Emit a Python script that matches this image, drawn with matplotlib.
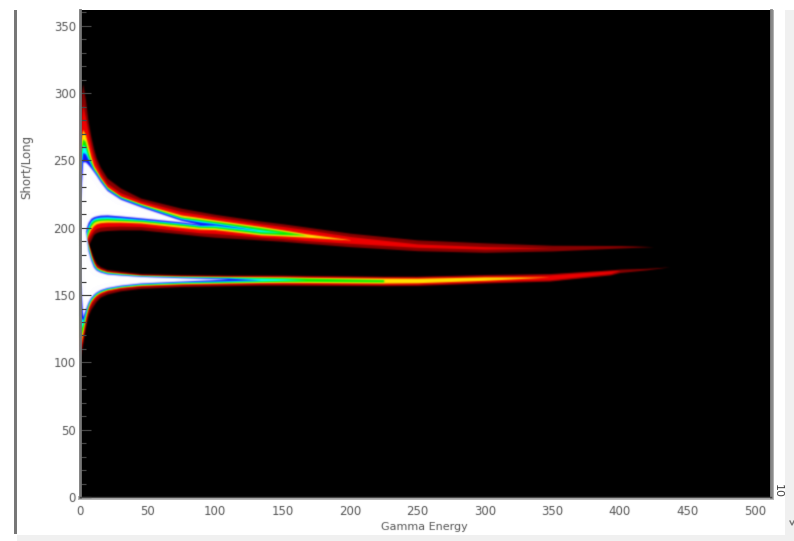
import matplotlib
matplotlib.use("Agg")
import matplotlib.pyplot as plt
import numpy as np
from matplotlib.patches import Rectangle

X_TICKS = [0, 50, 100, 150, 200, 250, 300, 350, 400, 450, 500]
Y_TICKS = [0, 50, 100, 150, 200, 250, 300, 350]
Y_MINOR = list(range(0, 361, 10))

LEVELS = ["dark", "red", "yellow", "green", "cyan", "blue", "white"]
COLORS = ["#8a0000", "#f00000", "#ffe600", "#00f000", "#00ffff", "#1010ff", "#ffffff"]

U_X = [0, 2, 4, 6, 8, 10, 12, 15, 20, 30, 45, 75, 89, 100, 134, 150, 168, 200, 250, 300, 350, 400, 425]
U_TOP = {
    "dark": [290, 307, 295, 279, 268, 259, 252, 245, 237, 229.5, 222, 214.5, 212, 210, 205, 203, 200.5, 196, 191, 188.8, 187, 186.8, 186],
    "red": [270, 292, 282, 271, 261, 253, 247.5, 241, 233, 226, 220, 212, 209.8, 208, 203, 201, 198.5, 193.5, 188, 186, 185],
    "yellow": [262, 273, 269, 261, 253, 246.5, 243, 237.5, 230.5, 223.5, 218, 209.5, 207.5, 205.8, 201, 198.5, 195.5, 191.2],
    "green": [255, 266, 264, 256, 249.5, 244.5, 241.5, 236.5, 229.8, 223, 217.4, 208, 206.3, 204.8, 200, 197.5, 194.5],
    "cyan": [248, 262, 260, 253, 248, 243.5, 240.8, 236, 229.2, 222.5, 217, 207.2, 205.3, 203.8, 198.5, 196.5],
    "blue": [240, 256, 255, 251, 246.8, 243, 240.3, 235.5, 228.8, 222.2, 216.6, 206.6, 204.3, 203, 197.8],
    "white": [215, 249, 249, 247, 244.5, 241.8, 239, 234.3, 227.8, 221.2, 215.6, 205.5, 202.5],
}
U_BOT = {
    "dark": [187, 187, 187, 187, 191, 195, 196.5, 197.5, 198, 198.5, 198.5, 195.5, 194, 193, 191, 190, 188.5, 186, 183, 181.8, 182.8, 185, 186],
    "red": [189, 189, 189, 191.5, 195, 198, 199.5, 200.5, 201, 201.3, 201, 197.8, 196.3, 195.8, 193, 192, 190.5, 188.5, 185.5, 184.2, 185],
    "yellow": [190, 190, 190, 195, 199, 201.5, 203, 203.8, 204.2, 204.2, 203.6, 200.3, 199, 198.7, 194.7, 194, 193, 191],
    "green": [191, 191, 191, 197, 201.5, 204, 205, 205.6, 205.8, 205.4, 204.8, 201.8, 200.3, 200, 195.8, 195, 194.5],
    "cyan": [192, 192, 192, 199, 203.5, 205.5, 206.2, 206.7, 206.9, 206.4, 205.6, 202.8, 201.2, 201, 197, 196.5],
    "blue": [195, 195, 195, 201.5, 205.3, 206.8, 207.5, 208, 208.2, 207.6, 206.3, 203.5, 201.9, 202, 197.8],
    "white": [198, 198, 198, 204, 207, 208.2, 208.8, 209.4, 209.6, 208.8, 207.4, 204.4, 202.5],
}

# lower branch
L_X = [0, 2, 4, 6, 8, 10, 12, 15, 20, 30, 45, 75, 110, 134, 150, 168, 225, 250, 300, 348, 393, 400, 420, 437]
L_TOP = {
    "dark": [188, 188, 188, 188, 183, 177.5, 173.5, 171, 169, 167.7, 166, 165.2, 164.8, 164.8, 164.8, 164.6, 164, 164, 165.3, 166, 168.7, 169.3, 169.9, 171],
    "red": [190, 190, 190, 188.5, 181, 175.5, 171.8, 169.7, 167.8, 166.6, 165, 164.3, 164, 164.1, 164, 163.8, 163.2, 163.2, 164.2, 165, 168, 168.3],
    "yellow": [191, 191, 191, 187, 179.5, 174, 170.6, 168.9, 167.2, 166.1, 164.6, 163.9, 163.6, 163.5, 163.4, 163.1, 162.6, 162.5, 163.5, 163.4],
    "green": [192, 192, 192, 186, 178.7, 173.3, 170.1, 168.5, 166.8, 165.8, 164.4, 163.7, 163.3, 163, 162.9, 162.6, 161.5],
    "cyan": [193, 193, 193, 185, 178, 172.7, 169.6, 168, 166.5, 165.5, 164.2, 163.5, 163, 162.5, 162.2, 161.5],
    "blue": [196, 196, 196, 184, 177, 172, 169.1, 167.6, 166.1, 165.2, 164.1, 163.2, 162.6, 161.3],
    "white": [199, 199, 199, 183, 176, 171, 168.6, 167.1, 165.7, 164.9, 163.9, 162.9, 162],
}
L_BOT = {
    "dark": [103, 114, 126, 135, 139.5, 142.5, 145.5, 148.5, 150.8, 153.2, 155, 156.4, 157, 157.4, 157.4, 157.3, 157, 157.2, 159, 160.4, 165, 166.8, 168.8, 171],
    "red": [108, 118, 130, 138.5, 143, 146, 148.3, 150.7, 152.8, 155, 156.6, 157.7, 158.3, 158.5, 158.5, 158.4, 158, 158.2, 160, 161.4, 166, 168.3],
    "yellow": [112, 122, 133, 141, 145.4, 148, 150, 152, 153.9, 155.9, 157.4, 158.5, 159.1, 159.4, 159.5, 159.4, 159, 159.2, 161, 163.4],
    "green": [118, 125, 135, 142.4, 146.3, 148.8, 150.7, 152.6, 154.4, 156.3, 157.8, 159, 159.6, 160, 160.2, 160.2, 159.8],
    "cyan": [125, 128, 136.5, 143.2, 147, 149.4, 151.2, 153, 154.8, 156.6, 158.2, 159.4, 160.1, 160.6, 161, 161.5],
    "blue": [135, 131, 138, 144, 147.7, 150, 151.8, 153.5, 155.2, 157, 158.6, 159.9, 160.7, 161.3],
    "white": [165, 134, 139.5, 144.8, 148.4, 150.6, 152.3, 154, 155.6, 157.4, 159, 160.4, 162],
}


def soft(sigma):
    radius = int(3 * sigma) + 1
    t = np.arange(-radius, radius + 1)
    kernel = np.exp(-0.5 * (t / sigma) ** 2)
    kernel /= kernel.sum()

    def run(a):
        a = np.apply_along_axis(lambda v: np.convolve(v, kernel, mode="same"), 0, a)
        return np.apply_along_axis(lambda v: np.convolve(v, kernel, mode="same"), 1, a)

    def agg(img, dpi):
        img = np.pad(img, ((radius, radius), (radius, radius), (0, 0)))
        alpha = run(img[:, :, 3])
        out = np.zeros_like(img)
        for c in range(3):
            out[:, :, c] = run(img[:, :, c] * img[:, :, 3]) / np.maximum(alpha, 1e-4)
        out[:, :, 3] = alpha
        return np.clip(out, 0, 1), -radius, -radius

    return agg


W, H = 794, 541
fig = plt.figure(figsize=(W / 100, H / 100), dpi=100, facecolor="white")

# window furniture around the plot, in pixels
chrome = fig.add_axes([0, 0, 1, 1], zorder=0)
chrome.set_xlim(0, W)
chrome.set_ylim(H, 0)
chrome.axis("off")
chrome.add_patch(Rectangle((17, 535), W - 17, 6, color="#f0f0f0", lw=0))
chrome.add_patch(Rectangle((785, 10), 9, 531, color="#f0f0f0", lw=0))
chrome.add_patch(Rectangle((14, 10), 2.5, 524, color="#777777", lw=0))
chrome.add_patch(Rectangle((78, 496), 696, 3.5, color="#b8b8b8", lw=0))
chrome.add_patch(Rectangle((770, 10), 4, 489, color="#b0b0b0", lw=0))
chrome.plot([790, 792, 794], [521, 525, 521], color="#777777", lw=1)
chrome.text(778, 491, "10", rotation=-90, ha="center", va="center", fontsize=8, color="#444444")
xlab = chrome.text(424, 526.5, "Gamma Energy", ha="center", va="center", fontsize=8, color="#555555")
ylab = chrome.text(27, 167, "Short/Long", rotation=90, ha="center", va="center", fontsize=8.5, color="#555555")

ax = fig.add_axes([80 / W, 1 - 497 / H, 691 / W, 487 / H], zorder=1)
ax.set_facecolor("black")
ax.set_xlim(0, 511.9)
ax.set_ylim(0, 361.8)

blur = soft(0.6)
for level, color in zip(LEVELS, COLORS):
    for xs, top, bot in ((U_X, U_TOP[level], U_BOT[level]), (L_X, L_TOP[level], L_BOT[level])):
        n = len(top)
        band = ax.fill_between(xs[:n], bot, top, color=color, lw=0)
        band.set_agg_filter(blur)

ax.set_xticks(X_TICKS)
ax.set_yticks(Y_TICKS)
ax.set_yticks(Y_MINOR, minor=True)
ax.tick_params(axis="y", which="major", direction="in", length=8, width=0.9, color="#444444", labelsize=8.5, labelcolor="#555555", pad=3)
ax.tick_params(axis="y", which="minor", direction="in", length=4.5, width=0.9, color="#444444")
ax.tick_params(axis="x", which="major", length=0, labelsize=8.5, labelcolor="#555555", pad=6)

for side, spine in ax.spines.items():
    spine.set_color("#777777")
    spine.set_linewidth(2)
ax.spines["top"].set_visible(False)
ax.spines["bottom"].set_color("#444444")
ax.spines["bottom"].set_linewidth(1)
ax.spines["right"].set_color("#888888")

for label in ax.get_xticklabels() + ax.get_yticklabels() + [xlab, ylab]:
    label.set_agg_filter(soft(0.5))

fig.savefig("out.png", dpi=100, facecolor="white")
